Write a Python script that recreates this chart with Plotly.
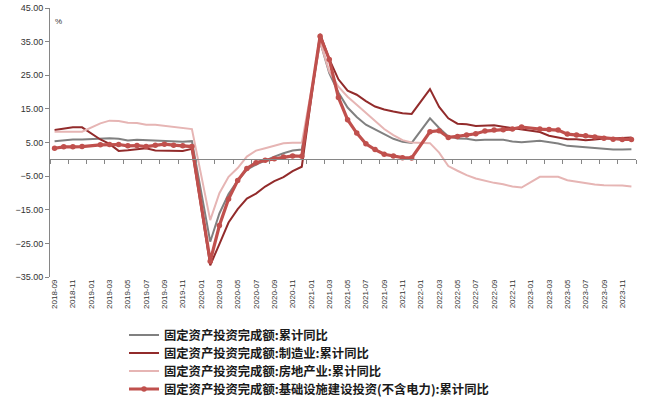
import plotly.graph_objects as go

# Categories: every month 2018-09 .. 2023-12 (January has no data)
months = []
for yr in range(2018, 2024):
    for m in range(1, 13):
        if yr == 2018 and m < 9:
            continue
        months.append(f"{yr}-{m:02d}")

N = None
total = [5.4, 5.7, 5.9, 5.9,
         N, 6.1, 6.3, 6.1, 5.6, 5.8, 5.7, 5.5, 5.4, 5.2, 5.2, 5.4,
         N, -24.5, -16.1, -10.3, -6.3, -3.1, -1.6, -0.3, 0.8, 1.8, 2.6, 2.9,
         N, 35.0, 25.6, 19.9, 15.4, 12.6, 10.3, 8.9, 7.3, 6.1, 5.2, 4.9,
         N, 12.2, 9.3, 6.8, 6.2, 6.1, 5.7, 5.8, 5.9, 5.8, 5.3, 5.1,
         N, 5.5, 5.1, 4.7, 4.0, 3.8, 3.4, 3.2, 3.1, 2.9, 2.9, 3.0]

manufacturing = [8.7, 9.1, 9.5, 9.5,
                 N, 5.9, 4.6, 2.5, 2.7, 3.0, 3.3, 2.6, 2.5, 2.6, 2.5, 3.1,
                 N, -31.5, -25.2, -18.8, -14.8, -11.7, -10.2, -8.1, -6.5, -5.3, -3.5, -2.2,
                 N, 37.3, 29.8, 23.8, 20.4, 19.2, 17.3, 15.7, 14.8, 14.2, 13.7, 13.5,
                 N, 20.9, 15.6, 12.2, 10.6, 10.4, 9.9, 10.0, 10.1, 9.7, 9.3, 9.1,
                 N, 8.1, 7.0, 6.4, 6.0, 6.0, 5.7, 5.9, 6.2, 6.2, 6.3, 6.5]

real_estate = [8.2, 8.2, 8.2, 8.2,
               N, 10.7, 11.5, 11.4, 10.9, 10.8, 10.3, 10.3, 10.0, 9.7, 9.4, 9.0,
               N, -18.1, -10.1, -5.2, -2.6, 0.8, 2.6, 3.3, 4.1, 4.8, 4.9, 4.9,
               N, 35.0, 26.1, 21.6, 18.6, 16.2, 13.7, 11.2, 9.0, 7.2, 5.7, 5.0,
               N, 4.8, 2.0, -2.0, -3.4, -4.7, -5.7, -6.4, -7.0, -7.4, -8.1, -8.4,
               N, -5.2, -5.2, -5.2, -6.2, -6.7, -7.0, -7.5, -7.7, -7.7, -7.8, -8.1]

infrastructure = [3.3, 3.7, 3.7, 3.8,
                  N, 4.3, 4.4, 4.4, 4.0, 4.1, 3.8, 4.2, 4.5, 4.2, 4.0, 3.8,
                  N, -30.3, -19.7, -11.8, -6.3, -2.7, -1.0, -0.3, 0.2, 0.7, 1.0, 0.9,
                  N, 36.6, 29.7, 18.4, 11.8, 7.8, 4.6, 2.9, 1.5, 1.0, 0.5, 0.4,
                  N, 8.2, 8.5, 6.5, 6.8, 7.2, 7.6, 8.4, 8.7, 8.8, 9.0, 9.6,
                  N, 9.0, 8.9, 8.7, 7.5, 7.2, 7.0, 6.6, 6.3, 6.0, 5.9, 5.9]

series_names = ["固定资产投资完成额:累计同比",
                "固定资产投资完成额:制造业:累计同比",
                "固定资产投资完成额:房地产业:累计同比",
                "固定资产投资完成额:基础设施建设投资(不含电力):累计同比"]

y_ticks = [45, 35, 25, 15, 5, -5, -15, -25, -35]
x_labels = months[::2]

fig = go.Figure()
fig.add_trace(go.Scatter(x=months, y=total, name=series_names[0], mode="lines",
                         connectgaps=True, line=dict(color="#808080", width=2),
                         legend="legend"))
fig.add_trace(go.Scatter(x=months, y=manufacturing, name=series_names[1], mode="lines",
                         connectgaps=True, line=dict(color="#922B2B", width=2),
                         legend="legend2"))
fig.add_trace(go.Scatter(x=months, y=real_estate, name=series_names[2], mode="lines",
                         connectgaps=True, line=dict(color="#E6B5B4", width=2),
                         legend="legend3"))
fig.add_trace(go.Scatter(x=months, y=infrastructure, name=series_names[3], mode="lines+markers",
                         connectgaps=True, line=dict(color="#C0504D", width=3.2),
                         marker=dict(color="#C0504D", size=5.5, symbol="circle"),
                         legend="legend4"))
# invisible trace for the zero-line axis
fig.add_trace(go.Scatter(x=months, y=[None] * len(months), xaxis="x2", showlegend=False,
                         hoverinfo="skip", mode="lines"))

leg_font = dict(family="Noto Sans CJK SC", size=12.3, color="#1a1a1a", weight="bold")


def leg(yv):
    return dict(x=0.1263, y=yv, xanchor="left", yanchor="middle", font=leg_font,
                itemwidth=30, bgcolor="rgba(0,0,0,0)", borderwidth=0)


fig.update_layout(
    width=650, height=397,
    margin=dict(l=50, r=14, t=8, b=120, autoexpand=False),
    paper_bgcolor="white", plot_bgcolor="white",
    font=dict(family="Liberation Sans", color="#333333"),
    showlegend=True,
    legend=leg(-0.2156), legend2=leg(-0.2825), legend3=leg(-0.3494), legend4=leg(-0.4164),
    xaxis=dict(type="category", categoryorder="array", categoryarray=months,
               range=[-0.5, len(months) - 0.5], showgrid=False, showline=False,
               zeroline=False, ticks="", tickmode="array", tickvals=x_labels,
               ticktext=x_labels, tickangle=-90, automargin=False,
               tickfont=dict(size=8, color="#333333")),
    xaxis2=dict(type="category", categoryorder="array", categoryarray=months,
                range=[-0.5, len(months) - 0.5], overlaying="x", anchor="free",
                position=35 / 80, showgrid=False, showline=True, linecolor="#868686",
                linewidth=1, ticks="outside", ticklen=4, tickcolor="#868686",
                tickson="boundaries", tickmode="linear", tick0=0, dtick=2,
                showticklabels=False, zeroline=False, automargin=False),
    yaxis=dict(range=[-35, 45], tickmode="array", tickvals=y_ticks, tickformat=".2f",
               showgrid=False, zeroline=False, showline=True, linecolor="#868686",
               linewidth=1, ticks="outside", ticklen=4, tickcolor="#868686",
               automargin=False, tickfont=dict(size=9, color="#333333")),
    annotations=[dict(text="%", xref="paper", yref="paper", x=0.005, y=0.948,
                      xanchor="left", yanchor="middle", showarrow=False,
                      font=dict(size=8, color="#333333"))],
)

fig.write_html("out.html", config={"displayModeBar": False},
               post_script="document.body.style.margin='0px';")
